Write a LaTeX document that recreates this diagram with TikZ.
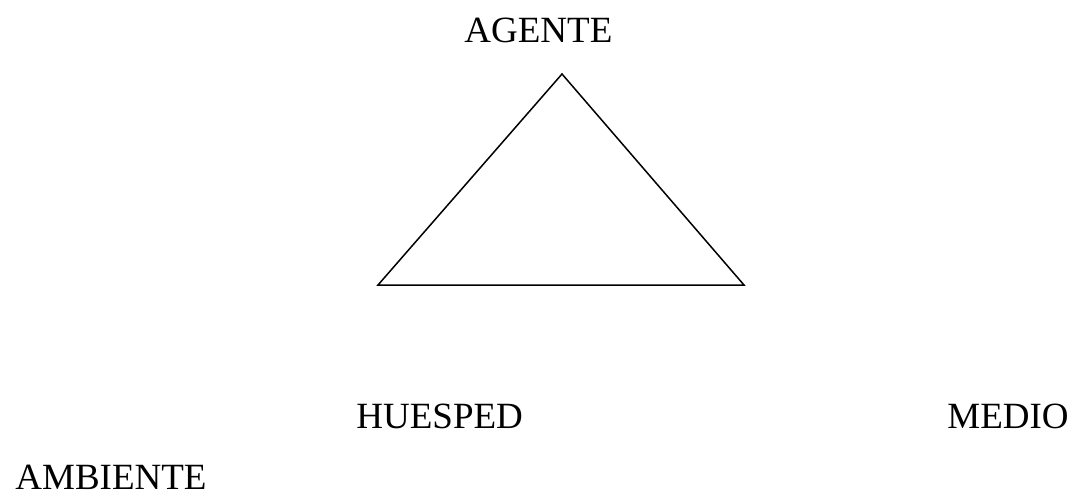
\documentclass[tikz,border=0pt]{standalone}
\usepackage{fontspec}
\setmainfont{Liberation Serif}
\usepackage{tikz}
\usetikzlibrary{positioning}
\tikzset{
  lbl/.style ={font=\fontsize{18.5}{22}\selectfont, inner sep=0pt, anchor=base west},
  tri/.style ={draw, line width=0.75pt, line join=miter},
}

\begin{document}
\begin{tikzpicture}[x=0.5pt, y=-0.5pt]
  \useasboundingbox (0,0) rectangle (1072,495);
  \coordinate (ag) at (562,74);
  \coordinate (hu) at (378,285);
  \coordinate (me) at (744,285);
  \draw[tri] (ag) -- (hu) -- (me) -- cycle;
  \node[lbl] (agente) at (464,42) {AGENTE};
  \node[lbl] (huesped) at (356,428) {HUESPED};
  \node[lbl] (medio) at (947,428) {MEDIO};
  \node[lbl] (ambiente) at (15,489) {AMBIENTE};
\end{tikzpicture}
\end{document}
